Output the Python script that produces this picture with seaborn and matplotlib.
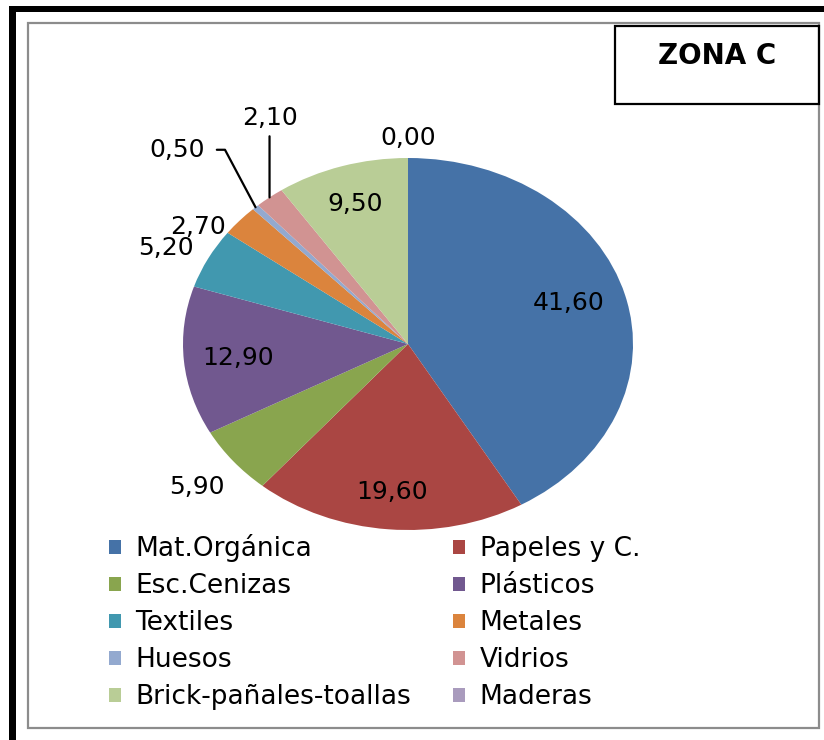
import matplotlib
matplotlib.use('Agg')
import matplotlib.pyplot as plt
import seaborn as sns
import numpy as np
from matplotlib.patches import Rectangle, Patch

# =====================================
# Data
# =====================================
categories = ['Mat.Orgánica', 'Papeles y C.', 'Esc.Cenizas', 'Plásticos',
              'Textiles', 'Metales', 'Huesos', 'Vidrios',
              'Brick-pañales-toallas', 'Maderas']
values = [41.60, 19.60, 5.90, 12.90, 5.20, 2.70, 0.50, 2.10, 9.50, 0.00]
colors = ['#4572A7', '#AA4643', '#89A54E', '#71588F', '#4198AF',
          '#DB843D', '#93A9CF', '#D19392', '#B9CD96', '#A99BBD']
title = 'ZONA C'

# label placement factors (x, y) along each slice's mid angle
label_fac = [(0.74, 0.84), (0.81, 0.80), (1.21, 1.22), (0.76, 0.82),
             (1.21, 1.12), (1.25, 0.95), (1.33, 1.42), (1.00, 1.54),
             (0.80, 0.79), (1.00, 1.11)]
leader = [False, False, False, False, False, False, True, True, False, False]

# =====================================
# Figure
# =====================================
sns.set_theme(style='white')
plt.rcParams['font.family'] = ['DejaVu Sans']
plt.rcParams['text.color'] = 'black'

W, H = 824, 740
fig = plt.figure(figsize=(W / 100, H / 100), dpi=100)


def fx(px):
    return px / W


def fy(py):
    return 1 - py / H


# pie axes (elliptical pie, like the Excel chart)
cx, cy, rx, ry = 408, 344, 225, 186
ax = fig.add_axes([fx(cx - rx), fy(cy + ry), 2 * rx / W, 2 * ry / H])

palette = sns.color_palette(colors)
wedges, _ = ax.pie(values, colors=palette, startangle=90, counterclock=False,
                   radius=1, wedgeprops=dict(linewidth=0))
ax.set_xlim(-1, 1)
ax.set_ylim(-1, 1)
ax.set_aspect('auto')
ax.axis('off')

lab_size = 18
for w, v, (fxr, fyr), lead in zip(wedges, values, label_fac, leader):
    mid = np.deg2rad((w.theta1 + w.theta2) / 2)
    c, s = np.cos(mid), np.sin(mid)
    txt = f'{v:.2f}'.replace('.', ',')
    tx, ty = fxr * c, fyr * s
    if not lead:
        ax.text(tx, ty, txt, ha='center', va='center', fontsize=lab_size,
                color='black')
    elif abs(fxr - 1.0) < 1e-6:
        ax.annotate(txt, xy=(c, s), xytext=(tx, ty), ha='center',
                    va='center', fontsize=lab_size, color='black',
                    arrowprops=dict(arrowstyle='-', color='black', lw=1.6,
                                    shrinkA=2, shrinkB=0))
    else:
        ax.annotate(txt, xy=(c, s), xytext=(tx, ty), ha='right',
                    va='center', fontsize=lab_size, color='black',
                    arrowprops=dict(arrowstyle='-', color='black', lw=1.6,
                                    shrinkA=6, shrinkB=0,
                                    connectionstyle='angle,angleA=0,angleB=-62,rad=0'))

# legend, filled row by row like the original
order = [0, 2, 4, 6, 8, 1, 3, 5, 7, 9]
handles = [Patch(facecolor=palette[i], edgecolor='none', label=categories[i])
           for i in order]
leg = fig.legend(handles=handles, ncol=2, loc='upper left',
                 bbox_to_anchor=(fx(109), fy(534)), frameon=False, fontsize=19,
                 handlelength=0.45, handleheight=0.45, handletextpad=0.55,
                 columnspacing=1.6, labelspacing=0.42, borderpad=0,
                 borderaxespad=0)
for t in leg.get_texts():
    t.set_color('black')

# frames
fig.add_artist(Rectangle((fx(9), fy(740)), 7 / W, 734 / H,
                         transform=fig.transFigure, color='black', lw=0))
fig.add_artist(Rectangle((fx(9), fy(12)), 815 / W, 6 / H,
                         transform=fig.transFigure, color='black', lw=0))
fig.add_artist(Rectangle((fx(28), fy(728)), 791 / W, 705 / H,
                         transform=fig.transFigure, fill=False,
                         edgecolor='#8c8c8c', lw=1.6))

# title box
fig.add_artist(Rectangle((fx(615), fy(104)), 204 / W, 78 / H,
                         transform=fig.transFigure, fill=False,
                         edgecolor='black', lw=1.6))
fig.text(fx(717), fy(56), title, ha='center', va='center', fontsize=20,
         fontweight='bold', color='black')

plt.savefig('out.png', dpi=100)
